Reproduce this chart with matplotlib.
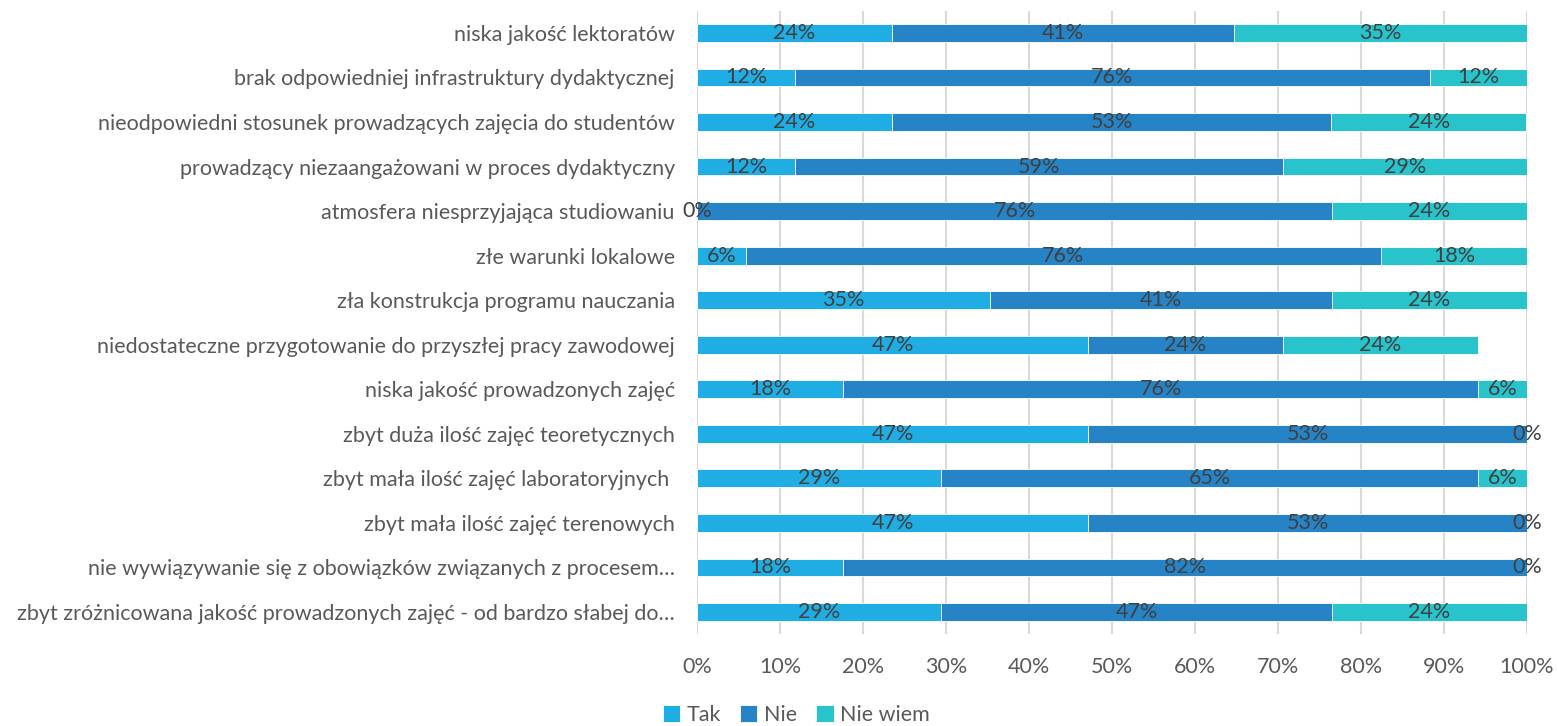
import numpy as np
from matplotlib import pyplot as plt

categories = [
    "niska jakość lektoratów",
    "brak odpowiedniej infrastruktury dydaktycznej",
    "nieodpowiedni stosunek prowadzących zajęcia do studentów",
    "prowadzący niezaangażowani w proces dydaktyczny",
    "atmosfera niesprzyjająca studiowaniu",
    "złe warunki lokalowe",
    "zła konstrukcja programu nauczania",
    "niedostateczne przygotowanie do przyszłej pracy zawodowej",
    "niska jakość prowadzonych zajęć",
    "zbyt duża ilość zajęć teoretycznych",
    "zbyt mała ilość zajęć laboratoryjnych ",
    "zbyt mała ilość zajęć terenowych",
    "nie wywiązywanie się z obowiązków związanych z procesem…",
    "zbyt zróżnicowana jakość prowadzonych zajęć - od bardzo słabej do…",
]
tak = [23.5, 11.8, 23.5, 11.8, 0.0, 5.9, 35.3, 47.1, 17.6, 47.1, 29.4, 47.1, 17.6, 29.4]
nie = [41.2, 76.5, 52.9, 58.8, 76.5, 76.5, 41.2, 23.5, 76.5, 52.9, 64.7, 52.9, 82.4, 47.1]
nie_wiem = [35.3, 11.8, 23.5, 29.4, 23.5, 17.6, 23.5, 23.5, 5.9, 0.0, 5.9, 0.0, 0.0, 23.5]

series = [("Tak", tak, "#1FADE4"), ("Nie", nie, "#2683C6"), ("Nie wiem", nie_wiem, "#29C3CC")]

plt.rcParams["font.family"] = ["Lato", "DejaVu Sans"]
fs = 15.5

fig = plt.figure(figsize=(15.58, 7.26), dpi=100)
ax = fig.add_axes([0.4474, 0.1263, 0.5327, 0.8590])

y = np.arange(len(categories))
left = np.zeros(len(categories))
for name, vals, color in series:
    vals = np.array(vals)
    bars = ax.barh(y, vals, left=left, height=0.4, color=color, label=name,
                   edgecolor="white", linewidth=0.6, zorder=2)
    ax.bar_label(bars, labels=[f"{v:.0f}%" for v in vals], label_type="center",
                 fontsize=fs, color="#404040")
    left += vals

ax.set_xlim(0, 100)
ax.set_ylim(len(categories) - 0.5, -0.5)
ax.set_xticks(np.arange(0, 101, 10))
ax.set_xticklabels([f"{t}%" for t in range(0, 101, 10)])
ax.set_yticks(y)
ax.set_yticklabels(categories)
ax.tick_params(axis="x", length=0, pad=16, labelsize=fs, labelcolor="#595959")
ax.tick_params(axis="y", length=0, pad=16, labelsize=fs, labelcolor="#595959")
ax.grid(axis="x", color="#d9d9d9", linewidth=1.5, zorder=0)
ax.set_axisbelow(True)
for s in ax.spines.values():
    s.set_visible(False)

fig.legend(loc="lower center", bbox_to_anchor=(0.511, -0.025), ncol=3, frameon=False,
           fontsize=fs, labelcolor="#595959", handlelength=0.8, handleheight=0.8,
           handletextpad=0.3, columnspacing=0.9)

fig.savefig("out.png")
